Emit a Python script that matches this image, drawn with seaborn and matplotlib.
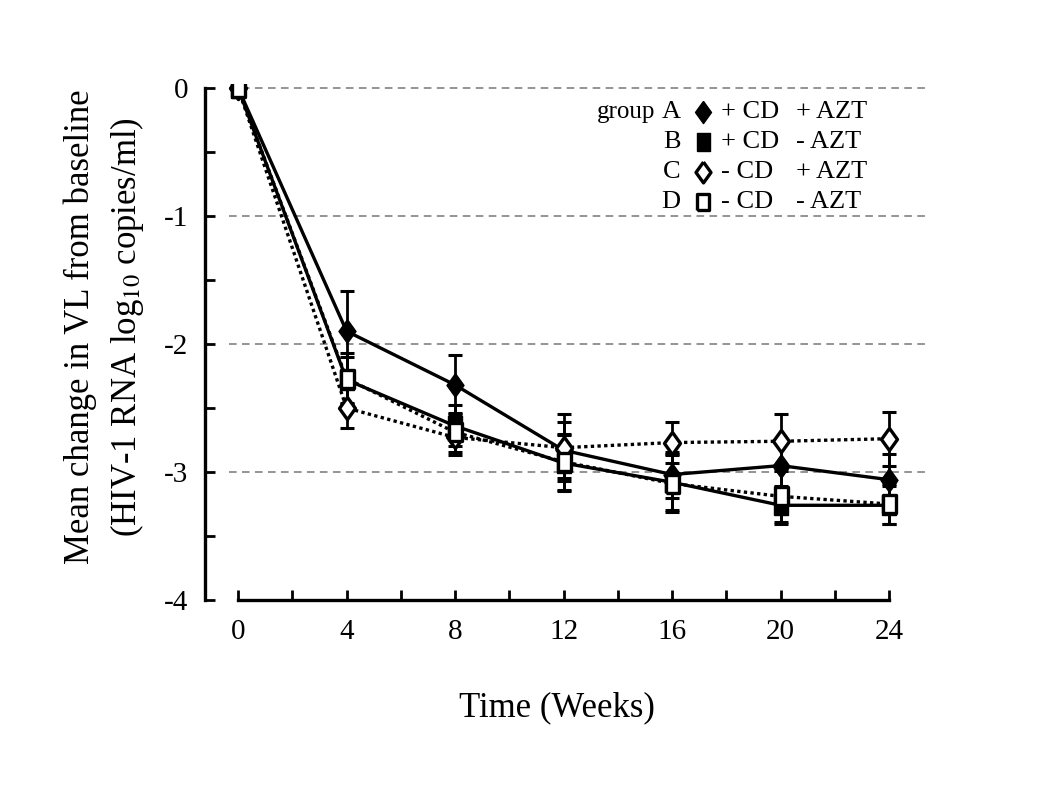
import numpy as np
import pandas as pd
import matplotlib
matplotlib.use("Agg")
import matplotlib.pyplot as plt
import seaborn as sns

# data
weeks = [0, 4, 8, 12, 16, 20, 24]
groups = ["A", "B", "C", "D"]
cd_sign = ["+ CD", "+ CD", "- CD", "- CD"]
azt_sign = ["+ AZT", "- AZT", "+ AZT", "- AZT"]

mean_a = [0, -1.90, -2.32, -2.83, -3.02, -2.95, -3.06]
mean_b = [0, -2.28, -2.64, -2.93, -3.08, -3.26, -3.26]
mean_c = [0, -2.50, -2.73, -2.81, -2.77, -2.76, -2.74]
mean_d = [0, -2.27, -2.69, -2.92, -3.09, -3.19, -3.25]

err_a = [0, 0.31, 0.23, 0.22, 0.18, 0.20, 0.20]
err_b = [0, 0.18, 0.16, 0.22, 0.22, 0.15, 0.15]
err_c = [0, 0.16, 0.14, 0.26, 0.16, 0.21, 0.21]
err_d = [0, 0.20, 0.15, 0.22, 0.22, 0.20, 0.16]

df = pd.DataFrame({
    "week": weeks * 4,
    "change": mean_a + mean_b + mean_c + mean_d,
    "err": err_a + err_b + err_c + err_d,
    "group": [g for g in groups for _ in weeks],
})

sns.set_style("ticks")
plt.rcParams["font.family"] = ["Liberation Serif", "DejaVu Serif"]
plt.rcParams["mathtext.fontset"] = "stix"
plt.rcParams["text.color"] = "black"
plt.rcParams["axes.edgecolor"] = "black"
plt.rcParams["xtick.color"] = "black"
plt.rcParams["ytick.color"] = "black"

# marker styles (diamond a bit narrower than tall, squares a bit taller than wide)
diamond = [(0, 1), (0.72, 0), (0, -1), (-0.72, 0), (0, 1)]
rect = [(-0.72, -1), (0.72, -1), (0.72, 1), (-0.72, 1), (-0.72, -1)]
marker_of = {"A": diamond, "B": rect, "C": diamond, "D": rect}
size_of = {"A": 17, "B": 14, "C": 16, "D": 13}
face_of = {"A": "black", "B": "black", "C": "white", "D": "white"}

fig = plt.figure(figsize=(10.5, 8.09), dpi=100)
ax = fig.add_axes([0.1952, 0.2583, 0.6905, 0.6378])

for y in [0, -1, -2, -3]:
    ax.plot([-0.35, 25.5], [y, y], color="#777777", lw=1.1, ls=(0, (5, 3.5)), zorder=1)

for g in groups:
    sub = df[df["group"] == g]
    ax.errorbar(sub["week"], sub["change"], yerr=sub["err"], fmt="none",
                ecolor="black", elinewidth=2, capsize=5, capthick=2.2, zorder=2)

for g in groups:
    sub = df[df["group"] == g]
    sns.lineplot(data=sub, x="week", y="change", ax=ax, color="black",
                 lw=2.4, linestyle="-" if g in "AB" else (0, (1, 1)),
                 marker=marker_of[g], markersize=size_of[g],
                 markerfacecolor=face_of[g], markeredgecolor="black",
                 markeredgewidth=2.4 if g in "CD" else 1, zorder=3)

ax.set_xlim(-1.22, 25.51)
ax.set_ylim(-4.0, 0.03)
ax.set_xticks(range(0, 25, 4))
ax.set_xticks(range(2, 25, 4), minor=True)
ax.set_yticks([0, -1, -2, -3, -4])
ax.set_yticklabels(["0", "-1", "-2", "-3", "-4"])
ax.set_yticks(np.arange(-3.5, 0, 1.0), minor=True)
ax.tick_params(which="both", direction="in", length=7, width=2, labelsize=21)
ax.tick_params(axis="x", which="both", pad=14)
ax.tick_params(axis="y", which="both", pad=12)

for s in ["top", "right"]:
    ax.spines[s].set_visible(False)
ax.spines["bottom"].set_bounds(0, 24)
ax.spines["left"].set_bounds(-4, 0)
ax.spines["bottom"].set_linewidth(2.4)
ax.spines["left"].set_linewidth(2.4)
ax.set_xlabel("")
ax.set_ylabel("")

fig.text(0.530, 0.125, "Time (Weeks)", ha="center", va="center", fontsize=25)
fig.text(0.076, 0.596, "Mean change in VL from baseline", ha="center", va="center",
         rotation=90, fontsize=25)
fig.text(0.121, 0.596, "(HIV-1 RNA log$_{10}$ copies/ml)", ha="center", va="center",
         rotation=90, fontsize=25)

# legend drawn by hand to keep the table layout
rows_y = [0.945, 0.887, 0.830, 0.772]
ax.text(0.621, rows_y[0], "group", transform=ax.transAxes, ha="right", va="center", fontsize=18)
for i, g in enumerate(groups):
    yy = rows_y[i]
    ax.text(0.656, yy, g, transform=ax.transAxes, ha="right", va="center", fontsize=19)
    ax.plot([0.687], [yy], transform=ax.transAxes, marker=marker_of[g],
            markersize=size_of[g] - 1, markerfacecolor=face_of[g],
            markeredgecolor="black", markeredgewidth=2.4 if g in "CD" else 1,
            clip_on=False, zorder=5)
    ax.text(0.712, yy, cd_sign[i], transform=ax.transAxes, ha="left", va="center", fontsize=19)
    ax.text(0.815, yy, azt_sign[i], transform=ax.transAxes, ha="left", va="center", fontsize=19)

fig.savefig("out.png", dpi=100)
